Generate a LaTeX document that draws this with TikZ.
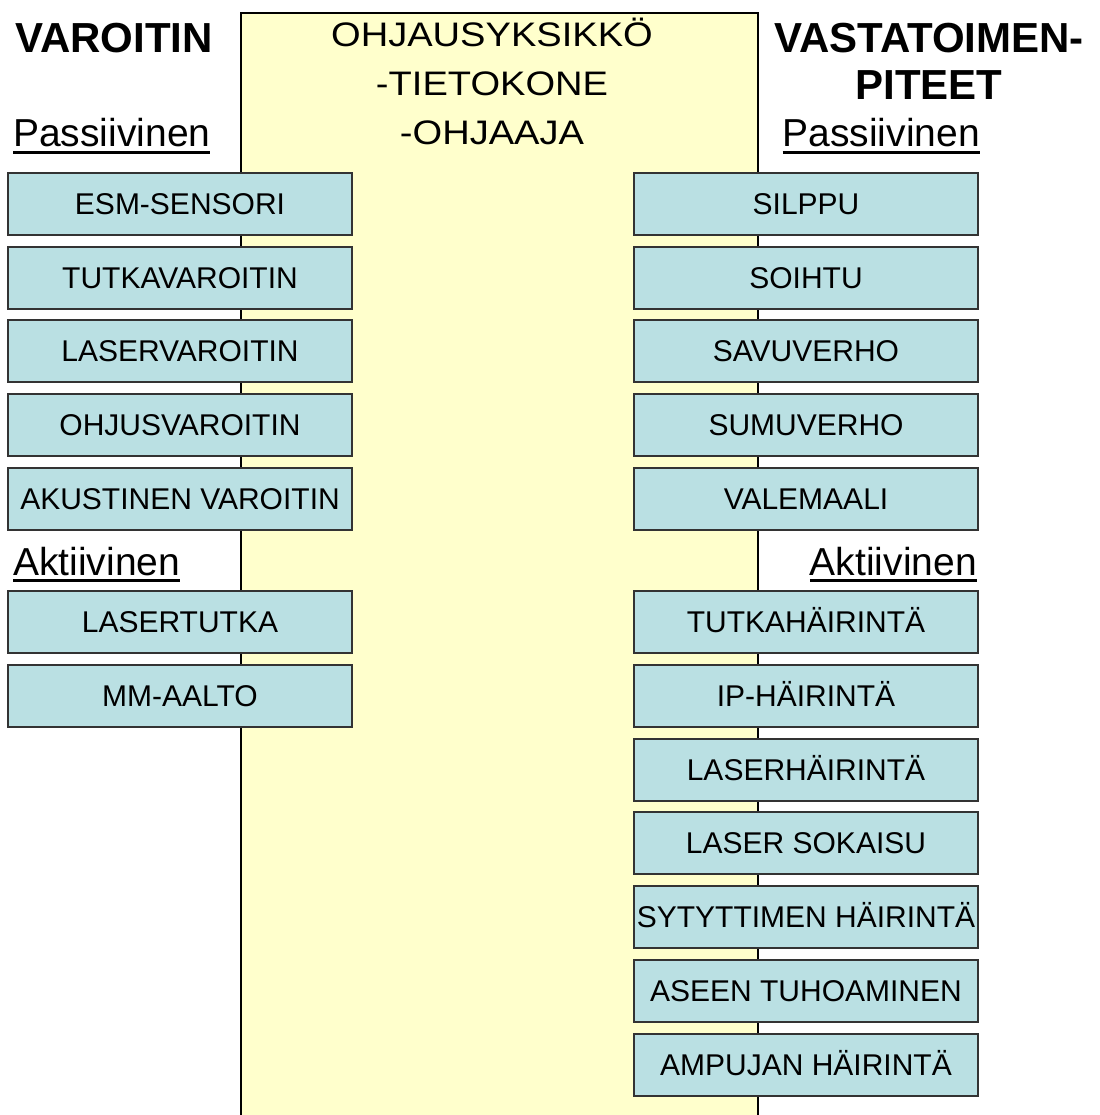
\documentclass[tikz,border=0pt]{standalone}
\usepackage{fontspec}
\setmainfont{Liberation Sans}
\newfontfamily\widesans[FakeStretch=1.12]{Liberation Sans}
\usepackage{xcolor}
\usepackage{tikz}
\definecolor{boxfill}{HTML}{BAE0E3}
\definecolor{unitfill}{HTML}{FFFFCC}
\colorlet{boxline}{black!80}
\newsavebox\ulinbox
\newcommand\ulin[1]{\sbox\ulinbox{#1}\rlap{\usebox\ulinbox}\raisebox{-6.7pt}{\rule{\wd\ulinbox}{3pt}}}
\newcommand\headfont{\fontsize{42}{47}\selectfont\bfseries}
\newcommand\subfont{\fontsize{39}{44}\selectfont}
\tikzstyle{unit}=[draw=boxline,line width=1.6pt,fill=boxfill,minimum width=344pt,minimum height=62pt,inner sep=0pt,text height=21.5pt,text depth=0pt,font=\fontsize{30}{36}\selectfont]
\tikzstyle{title}=[inner sep=0pt,anchor=base,font=\headfont,align=center]
\tikzstyle{group}=[inner sep=0pt,font=\subfont]

\begin{document}
\begin{tikzpicture}[x=1pt,y=-1pt]
	\useasboundingbox (0,0) rectangle (1099,1115);
	\fill[unitfill] (241,13) rectangle (758,1120);
	\draw[line width=1.8pt] (241,1120) -- (241,13) -- (758,13) -- (758,1120);
	% base of a multi-line node = last line
	\node[inner sep=0pt,anchor=base,align=center,font=\fontsize{34}{49}\widesans] (ohjaus) at (492,145) {OHJAUSYKSIKKÖ\\-TIETOKONE\\-OHJAAJA};
	\node[title,anchor=base west] (varoitin) at (15,53) {VAROITIN};
	\node[title] (vasta) at (929,100) {VASTATOIMEN-\\PITEET};
	\node[group,anchor=base west] (passL) at (13,147) {\ulin{Passiivinen}};
	\node[group,anchor=base east] (passR) at (980,147) {\ulin{Passiivinen}};
	\node[group,anchor=base west] (aktL) at (13,575) {\ulin{Aktiivinen}};
	\node[group,anchor=base east] (aktR) at (977,575) {\ulin{Aktiivinen}};
	% warning units
	\node[unit] (esm) at (180,204) {ESM-SENSORI};
	\node[unit] (tutka) at (180,278) {TUTKAVAROITIN};
	\node[unit] (laser) at (180,351) {LASERVAROITIN};
	\node[unit] (ohjus) at (180,425) {OHJUSVAROITIN};
	\node[unit] (akust) at (180,499) {AKUSTINEN VAROITIN};
	\node[unit] (lasertutka) at (180,622) {LASERTUTKA};
	\node[unit] (mmaalto) at (180,696) {MM-AALTO};
	% countermeasures
	\node[unit] (silppu) at (806,204) {SILPPU};
	\node[unit] (soihtu) at (806,278) {SOIHTU};
	\node[unit] (savu) at (806,351) {SAVUVERHO};
	\node[unit] (sumu) at (806,425) {SUMUVERHO};
	\node[unit] (valemaali) at (806,499) {VALEMAALI};
	\node[unit] (tutkah) at (806,622) {TUTKAHÄIRINTÄ};
	\node[unit] (iph) at (806,696) {IP-HÄIRINTÄ};
	\node[unit] (laserh) at (806,770) {LASERHÄIRINTÄ};
	\node[unit] (sokaisu) at (806,843) {LASER SOKAISU};
	\node[unit] (sytytin) at (806,917) {SYTYTTIMEN HÄIRINTÄ};
	\node[unit] (ase) at (806,991) {ASEEN TUHOAMINEN};
	\node[unit] (ampuja) at (806,1065) {AMPUJAN HÄIRINTÄ};
\end{tikzpicture}
\end{document}
